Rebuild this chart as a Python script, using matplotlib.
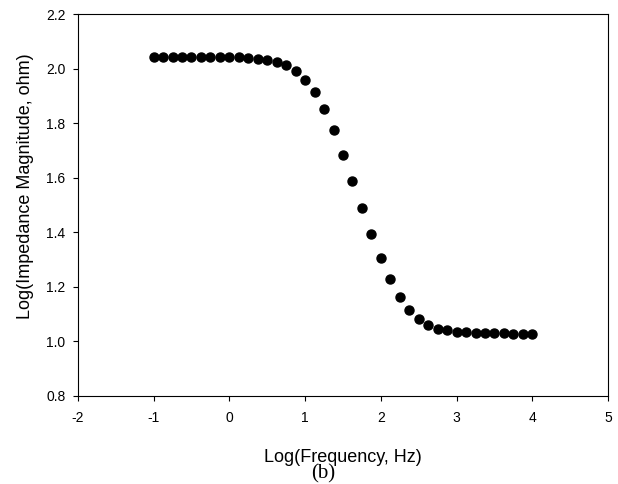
import numpy as np
from matplotlib import pyplot as plt

plt.rcParams['font.family'] = ['Liberation Sans', 'DejaVu Sans']

# log10 of frequency (Hz), 8 points per decade
log_freq = [-1.0, -0.875, -0.75, -0.625, -0.5, -0.375, -0.25, -0.125,
            0.0, 0.125, 0.25, 0.375, 0.5, 0.625, 0.75, 0.875,
            1.0, 1.125, 1.25, 1.375, 1.5, 1.625, 1.75, 1.875,
            2.0, 2.125, 2.25, 2.375, 2.5, 2.625, 2.75, 2.875,
            3.0, 3.125, 3.25, 3.375, 3.5, 3.625, 3.75, 3.875, 4.0]
# log10 of impedance magnitude (ohm)
log_z = [2.044, 2.044, 2.044, 2.044, 2.044, 2.044, 2.044, 2.044,
         2.044, 2.041, 2.040, 2.036, 2.033, 2.025, 2.013, 1.991,
         1.960, 1.913, 1.852, 1.774, 1.685, 1.588, 1.488, 1.392,
         1.304, 1.227, 1.162, 1.116, 1.083, 1.061, 1.046, 1.040,
         1.035, 1.033, 1.030, 1.030, 1.029, 1.029, 1.028, 1.028, 1.028]

x_ticks = [-2, -1, 0, 1, 2, 3, 4, 5]
y_ticks = [0.8, 1.0, 1.2, 1.4, 1.6, 1.8, 2.0, 2.2]

fig = plt.figure(figsize=(6.18, 4.84), dpi=100)
ax = fig.add_axes([0.126, 0.182, 0.858, 0.789])

ax.plot(log_freq, log_z, 'o', color='black', markersize=6.5, linestyle='none')

ax.set_xlim(-2, 5)
ax.set_ylim(0.8, 2.2)
ax.set_xticks(x_ticks)
ax.set_yticks(y_ticks)
ax.set_xticklabels([str(t) for t in x_ticks])
ax.set_yticklabels(['%.1f' % t for t in y_ticks])
ax.tick_params(direction='out', length=3.5, width=0.8, labelsize=10)
ax.tick_params(axis='x', pad=7.5)
ax.tick_params(axis='y', pad=5.5)
for s in ax.spines.values():
    s.set_linewidth(0.8)

ax.set_xlabel('Log(Frequency, Hz)', fontsize=13)
ax.set_ylabel('Log(Impedance Magnitude, ohm)', fontsize=13)
ax.xaxis.set_label_coords(0.5, -0.138)
ax.yaxis.set_label_coords(-0.082, 0.55)
fig.text(323 / 618, 1 - 474 / 484, '(b)', fontsize=15,
         family='Liberation Serif', ha='center', va='center')

plt.savefig('out.png', dpi=100)
